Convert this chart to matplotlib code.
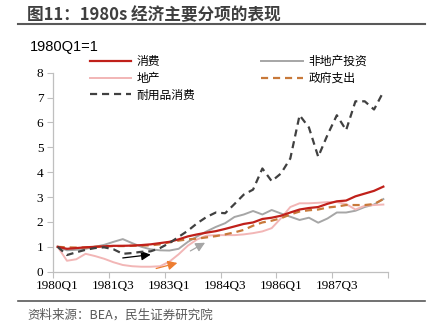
import matplotlib
matplotlib.use("Agg")
import matplotlib.pyplot as plt
from matplotlib.lines import Line2D

plt.rcParams['font.family'] = ['Noto Sans CJK SC', 'DejaVu Sans']

quarters = [f"{y}Q{q}" for y in range(1980, 1989) for q in range(1, 5)]
tick_labels = ["1980Q1", "1981Q3", "1983Q1", "1984Q3", "1986Q1", "1987Q3"]

consumption = [1.0, 0.92, 0.95, 0.98, 1.0, 1.02, 1.04, 1.04, 1.05, 1.07, 1.1, 1.15,
               1.2, 1.3, 1.42, 1.5, 1.57, 1.63, 1.72, 1.82, 1.92, 1.98, 2.12, 2.17,
               2.25, 2.38, 2.5, 2.56, 2.6, 2.73, 2.83, 2.86, 3.03, 3.14, 3.25, 3.42]
nonres_invest = [1.0, 0.86, 0.88, 0.92, 1.0, 1.08, 1.2, 1.31, 1.15, 1.0, 0.9, 0.86,
                 0.85, 0.92, 1.2, 1.42, 1.62, 1.8, 1.95, 2.2, 2.3, 2.44, 2.3, 2.48,
                 2.34, 2.21, 2.08, 2.17, 1.97, 2.14, 2.38, 2.38, 2.45, 2.6, 2.7, 2.92]
real_estate = [1.0, 0.44, 0.5, 0.72, 0.63, 0.52, 0.38, 0.27, 0.22, 0.2, 0.2, 0.22,
               0.4, 0.7, 1.05, 1.3, 1.45, 1.47, 1.47, 1.47, 1.5, 1.55, 1.62, 1.75,
               2.15, 2.6, 2.75, 2.75, 2.77, 2.8, 2.8, 2.72, 2.5, 2.65, 2.68, 2.7]
government = [1.0, 0.98, 0.97, 0.98, 1.0, 1.02, 1.03, 1.03, 1.04, 1.05, 1.06, 1.1,
              1.18, 1.25, 1.3, 1.33, 1.38, 1.43, 1.5, 1.58, 1.68, 1.85, 1.98, 2.05,
              2.15, 2.3, 2.42, 2.47, 2.5, 2.58, 2.62, 2.68, 2.68, 2.68, 2.72, 2.92]
durables = [1.0, 0.67, 0.78, 0.88, 0.95, 0.98, 0.9, 0.72, 0.75, 0.8, 0.82, 0.95,
            1.15, 1.4, 1.65, 1.95, 2.2, 2.38, 2.35, 2.72, 3.1, 3.3, 4.15, 3.64,
            3.95, 4.55, 6.29, 5.8, 4.62, 5.5, 6.29, 5.69, 6.85, 6.85, 6.52, 7.23]

W, H = 437, 334
fig = plt.figure(figsize=(W / 100, H / 100), dpi=100)
ax = fig.add_axes([53 / W, 1 - 271.7 / H, (388 - 53) / W, (271.7 - 72.7) / H])

x = list(range(len(quarters)))
l_cons, = ax.plot(x, consumption, color='#C0201A', lw=1.6, label='消费', zorder=5)
l_re, = ax.plot(x, real_estate, color='#F2B6B6', lw=1.4, label='地产', zorder=3)
l_dur, = ax.plot(x, durables, color='#404040', lw=1.6, ls=(0, (3.2, 2.2)), label='耐用品消费', zorder=6)
l_inv, = ax.plot(x, nonres_invest, color='#A6A6A6', lw=1.4, label='非地产投资', zorder=2)
l_gov, = ax.plot(x, government, color='#C8793A', lw=1.6, ls=(0, (3.2, 2.2)), label='政府支出', zorder=4)

# annotation arrows (data coordinates)
ax.annotate('', xy=(10.3, 0.70), xytext=(6.7, 0.54),
            arrowprops=dict(arrowstyle='-|>', color='black', lw=0.9, mutation_scale=14))
ax.annotate('', xy=(13.15, 0.38), xytext=(10.3, 0.10),
            arrowprops=dict(arrowstyle='-|>', color='#ED7D31', lw=0.9, mutation_scale=14))
ax.annotate('', xy=(16.1, 1.22), xytext=(14.0, 0.78),
            arrowprops=dict(arrowstyle='-|>', color='#A6A6A6', lw=0.9, mutation_scale=14))

ax.set_xlim(-0.5, len(quarters) - 0.5)
ax.set_ylim(0, 8)
ax.set_yticks(range(0, 9))
ax.set_xticks([i - 0.5 for i in range(0, len(quarters) + 1, 6)])
ax.set_xticklabels([])
ax.set_xticks([quarters.index(t) for t in tick_labels], minor=True)
ax.set_xticklabels(tick_labels, minor=True)
ax.tick_params(axis='x', which='major', length=4, width=0.8, color='#BFBFBF', direction='out')
ax.tick_params(axis='x', which='minor', length=0, pad=6)
ax.tick_params(axis='y', length=4, width=0.8, color='#BFBFBF', direction='out', pad=3)
for lab in ax.get_xticklabels(minor=True) + ax.get_yticklabels():
    lab.set_family('Liberation Serif')
    lab.set_fontsize(9.5)
    lab.set_color('#000000')
for s in ['top', 'right']:
    ax.spines[s].set_visible(False)
for s in ['left', 'bottom']:
    ax.spines[s].set_color('#BFBFBF')
    ax.spines[s].set_linewidth(0.9)

handles = [l_cons, l_re, l_dur, l_inv, l_gov]
leg = fig.legend(handles=handles, labels=[h.get_label() for h in handles], ncol=2,
                 loc='upper left', bbox_to_anchor=(90 / W, 1 - 55 / H),
                 frameon=False, fontsize=8.5, handlelength=3.5, handletextpad=0.45,
                 columnspacing=5.6, labelspacing=0.32, borderpad=0, borderaxespad=0)
for t in leg.get_texts():
    t.set_color('#000000')

# title and rules
fig.text(27 / W, 1 - 15 / H, '图11：1980s 经济主要分项的表现', fontsize=12, fontweight='bold',
         color='#3F3F3F', va='center', ha='left')
fig.add_artist(Line2D([18 / W, 425 / W], [1 - 24 / H, 1 - 24 / H], color='#595959', lw=1.5))
fig.text(30 / W, 1 - 46.5 / H, '1980Q1=1', fontsize=10.5, family='Liberation Sans',
         color='#000000', va='center', ha='left')
fig.add_artist(Line2D([18 / W, 425 / W], [1 - 301 / H, 1 - 301 / H], color='#595959', lw=1.2))
fig.text(27 / W, 1 - 315 / H, '资料来源：BEA，民生证券研究院', fontsize=9, color='#595959',
         va='center', ha='left')

fig.savefig('out.png', dpi=100)
